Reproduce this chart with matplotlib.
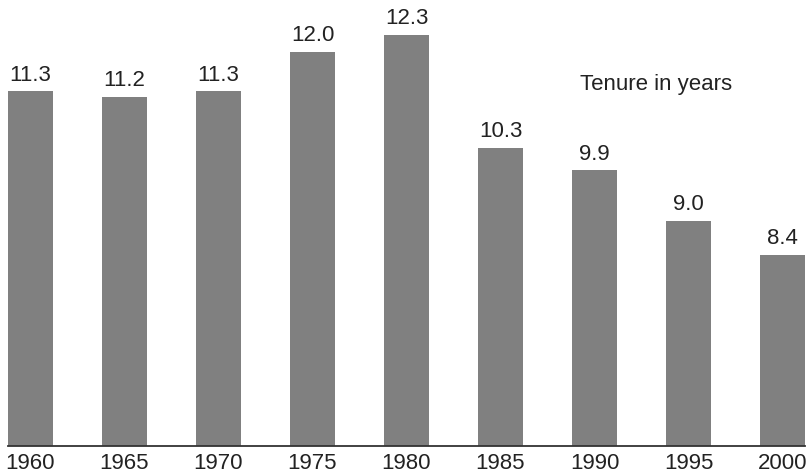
import matplotlib.pyplot as plt

years = ["1960", "1965", "1970", "1975", "1980", "1985", "1990", "1995", "2000"]
tenure = [11.3, 11.2, 11.3, 12.0, 12.3, 10.3, 9.9, 9.0, 8.4]

plt.rcParams['font.family'] = ['Liberation Sans', 'DejaVu Sans']

fig = plt.figure(figsize=(8.11, 4.76), dpi=100)
ax = fig.add_axes([0, 0.062, 1, 0.938])

x = list(range(len(years)))
width = 0.48
bars = ax.bar(x, tenure, width=width, bottom=0, color='#808080', zorder=2)

# value labels sit just above each bar
for xi, v in zip(x, tenure):
    ax.text(xi, v + 0.1, f"{v:.1f}", ha='center', va='bottom',
            fontsize=16, color='#222222')

ax.text(6.65, 11.42, "Tenure in years", ha='center', va='center',
        fontsize=16, color='#222222')

ax.set_xlim(-0.324, 8.303)
ax.set_ylim(5, 12.92)
ax.set_xticks(x)
ax.set_xticklabels(years, fontsize=16, color='#222222')
ax.set_yticks([])
ax.tick_params(axis='x', length=0, pad=5)

for side in ['top', 'right', 'left']:
    ax.spines[side].set_visible(False)
ax.spines['bottom'].set_bounds(-width / 2, x[-1] + width / 2)
ax.spines['bottom'].set_color('#333333')
ax.spines['bottom'].set_linewidth(1.3)
ax.spines['bottom'].set_zorder(3)

fig.savefig('out.png', dpi=100)
